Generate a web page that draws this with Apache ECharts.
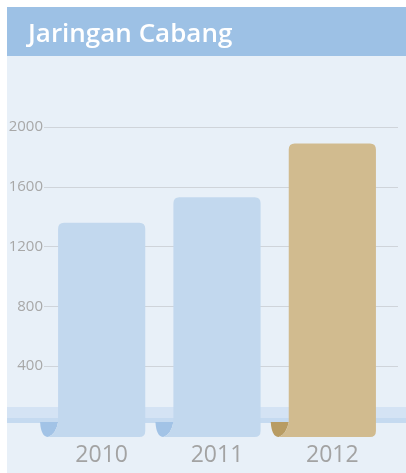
<!DOCTYPE html>
<html>
<head>
<meta charset="utf-8">
<script src="https://cdn.jsdelivr.net/npm/echarts@6/dist/echarts.min.js"></script>
<style>
  html, body { margin: 0; padding: 0; background: #fff; }
  #chart { width: 406px; height: 473px; }
</style>
</head>
<body>
<div id="chart"></div>
<script>
var years = ['2010', '2011', '2012'];
var branches = [1360, 1530, 1890];
var yTicks = [0, 400, 800, 1200, 1600, 2000];

// bar colours: body and the curled corner
var barColors = ['#c2d8ee', '#c2d8ee', '#d1bb8f'];
var curlColors = ['#a2c3e6', '#a2c3e6', '#b89c63'];

var chart = echarts.init(document.getElementById('chart'));

function renderBar (params, api) {
  var i = api.value(0);
  var top = api.coord([i, api.value(1)]);
  var zero = api.coord([i, 0]);
  var w = api.size([1, 0])[0] * 0.756;
  var L = top[0] - w / 2;
  var R = top[0] + w / 2;
  var T = top[1];
  var B = zero[1] + 11;
  var C = B - 15; // where the curl starts
  var r = 6;
  var body = 'M' + L + ',' + (T + r) +
    ' Q' + L + ',' + T + ' ' + (L + r) + ',' + T +
    ' L' + (R - r) + ',' + T +
    ' Q' + R + ',' + T + ' ' + R + ',' + (T + r) +
    ' L' + R + ',' + (B - r) +
    ' Q' + R + ',' + B + ' ' + (R - r) + ',' + B +
    ' L' + (L - 10) + ',' + B +
    ' Q' + (L - 2) + ',' + (B - 3) + ' ' + L + ',' + C + ' Z';
  var curl = 'M' + (L - 18) + ',' + C +
    ' Q' + (L - 17) + ',' + B + ' ' + (L - 10) + ',' + B +
    ' Q' + (L - 2) + ',' + (B - 3) + ' ' + L + ',' + C + ' Z';
  return {
    type: 'group',
    children: [
      { type: 'path', shape: { pathData: curl }, style: { fill: curlColors[i] } },
      { type: 'path', shape: { pathData: body }, style: { fill: barColors[i] } }
    ]
  };
}

var option = {
  backgroundColor: '#ffffff',
  animation: false,
  graphic: [
    { type: 'rect', z: -10, shape: { x: 7, y: 7, width: 399, height: 466 }, style: { fill: '#e8f0f8' } },
    { type: 'rect', z: -9, shape: { x: 7, y: 7, width: 399, height: 49 }, style: { fill: '#9dc1e5' } },
    { type: 'text', z: -8, x: 28, y: 35, style: { text: 'Jaringan Cabang', fill: '#ffffff', font: '600 26px "Open Sans"', verticalAlign: 'middle' } },
    { type: 'rect', z: 1, shape: { x: 7, y: 407, width: 399, height: 16 }, style: { fill: '#d4e3f4' } },
    { type: 'rect', z: 1, shape: { x: 7, y: 418, width: 399, height: 5 }, style: { fill: '#c5daf0' } }
  ],
  grid: [
    { left: 44, right: 8, top: 127, bottom: 47 },
    { left: 44, right: 16, top: 127, bottom: 47 }
  ],
  xAxis: [
    { gridIndex: 0, type: 'category', data: years, show: false },
    {
      gridIndex: 1, type: 'category', data: years,
      axisLine: { show: false }, axisTick: { show: false },
      axisLabel: { margin: 18, fontSize: 23, fontFamily: 'Open Sans', color: '#a3a3a3' }
    }
  ],
  yAxis: [
    {
      gridIndex: 0, type: 'value', min: yTicks[0], max: yTicks[yTicks.length - 1], interval: 400,
      axisLine: { show: false }, axisTick: { show: false },
      axisLabel: {
        showMinLabel: false, margin: 1, fontSize: 15, fontFamily: 'Open Sans', color: '#a8a8a8',
        formatter: function (v) { return String(v); }
      },
      splitLine: { showMinLine: false, lineStyle: { color: '#cfd4da', width: 1 } }
    },
    { gridIndex: 1, type: 'value', min: yTicks[0], max: yTicks[yTicks.length - 1], show: false }
  ],
  series: [{
    type: 'custom',
    xAxisIndex: 1,
    yAxisIndex: 1,
    z: 5,
    renderItem: renderBar,
    data: branches.map(function (v, i) { return [i, v]; })
  }]
};

chart.setOption(option);
</script>
</body>
</html>
